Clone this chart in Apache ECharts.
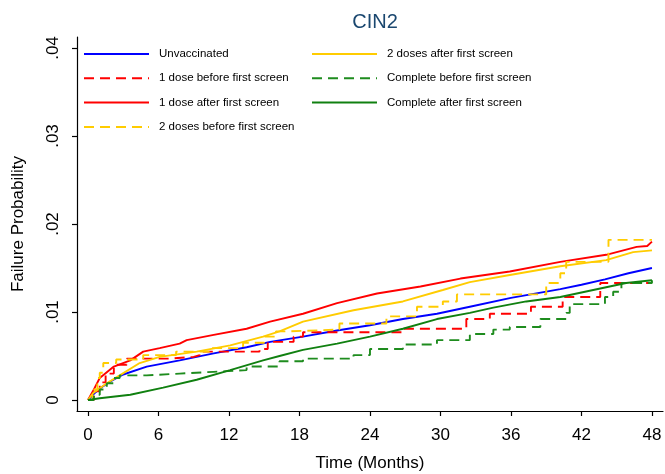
<!DOCTYPE html>
<html>
<head>
<meta charset="utf-8">
<script src="https://cdn.jsdelivr.net/npm/echarts@6/dist/echarts.min.js"></script>
<style>
  html, body { margin: 0; padding: 0; background: #fff; }
  #chart { width: 665px; height: 474px; }
</style>
</head>
<body>
<div id="chart"></div>
<script>
// tick positions
const xTicks = [0, 6, 12, 18, 24, 30, 36, 42, 48]
const yTicks = [0, 0.01, 0.02, 0.03, 0.04]

// [months, failure probability]
const unvaccinated = [
  [0, 0], [0.5, 0.0007], [1, 0.0013], [1.9, 0.0021], [3, 0.0029], [5, 0.0038],
  [7.8, 0.0045], [10.7, 0.0053], [13.5, 0.0060], [15.5, 0.0066], [18.3, 0.0072],
  [21.2, 0.0079], [24, 0.0085], [26.8, 0.0092], [29.7, 0.0098], [32.5, 0.0106],
  [36, 0.0116], [40.2, 0.0126], [42, 0.0131], [44, 0.0137], [46, 0.0144], [48, 0.0150]
]
const oneBefore = [
  [0, 0], [0.5, 0.0010], [1, 0.0020], [1.5, 0.0030], [2.2, 0.0040], [3.3, 0.0047],
  [7, 0.0049], [9, 0.0051], [9.5, 0.0055], [14.6, 0.0058], [15.3, 0.0066],
  [17.5, 0.0072], [18.3, 0.0077], [26.7, 0.0081], [32.2, 0.0092], [34.2, 0.0098],
  [37.7, 0.0106], [40.4, 0.0117], [43.6, 0.0133], [48, 0.0133]
]
const oneAfter = [
  [0, 0], [0.5, 0.0012], [1, 0.0025], [2.2, 0.0038], [3.6, 0.0045], [4.7, 0.0055],
  [6.1, 0.0059], [7.8, 0.0064], [8.4, 0.0068], [10.7, 0.0074], [13.5, 0.0081],
  [15.5, 0.0089], [18.3, 0.0098], [21.2, 0.0110], [24.6, 0.0121], [28.3, 0.0129],
  [31.7, 0.0138], [35.9, 0.0146], [40.2, 0.0157], [44.1, 0.0165], [46.7, 0.0174],
  [47.6, 0.0175], [48, 0.0180]
]
const twoBefore = [
  [0, 0], [0.4, 0.0012], [0.8, 0.0025], [1, 0.0031], [1.3, 0.0042], [2.4, 0.0046],
  [4.7, 0.0051], [7.5, 0.0055], [10.4, 0.0059], [13.2, 0.0065], [15, 0.0072],
  [16, 0.0078], [17, 0.0080], [21.4, 0.0087], [25.4, 0.0095], [28, 0.0106],
  [30.2, 0.0112], [31.4, 0.0120], [39, 0.0133], [40.2, 0.0144], [40.7, 0.0157],
  [44.3, 0.0182], [48, 0.0182]
]
const twoAfter = [
  [0, 0], [0.45, 0.0008], [1.6, 0.0019], [2.7, 0.0028], [4.4, 0.0042], [6.1, 0.0049],
  [9.25, 0.0055], [12.1, 0.0062], [14.9, 0.0072], [16.3, 0.0078], [18.3, 0.0089],
  [22.6, 0.0102], [26.8, 0.0112], [30.2, 0.0125], [32.5, 0.0134], [35.9, 0.0142],
  [40.2, 0.0152], [44.1, 0.0159], [46.4, 0.0168], [48, 0.0170]
]
const completeBefore = [
  [0, 0], [0.5, 0.0006], [1, 0.0012], [1.6, 0.0019], [2.2, 0.0025], [2.7, 0.0028],
  [5, 0.0030], [7.8, 0.0032], [10.7, 0.0034], [13.5, 0.0038], [16.3, 0.0044],
  [18.3, 0.0047], [22.6, 0.0051], [24, 0.0058], [26.8, 0.0063], [29.7, 0.0068],
  [32.5, 0.0075], [34.5, 0.0080], [35.9, 0.0083], [38.5, 0.0092], [40.7, 0.0099],
  [41, 0.0109], [44, 0.0117], [44.7, 0.0123], [45.4, 0.0133], [48, 0.0136]
]
const completeAfter = [
  [0, 0], [1, 0.0002], [3.6, 0.0006], [6.4, 0.0014], [9.25, 0.0023], [12.1, 0.0034],
  [14.9, 0.0045], [16.3, 0.0050], [18.3, 0.0057], [21.2, 0.0064], [24, 0.0072],
  [26.8, 0.0081], [29.7, 0.0092], [32.5, 0.0099], [34.5, 0.0105], [37.3, 0.0112],
  [40.2, 0.0117], [43, 0.0125], [45.8, 0.0133], [48, 0.0136]
]

const font = "'Liberation Sans', Arial, sans-serif"

function line (name, data, color, dashed) {
  return {
    name: name,
    type: 'line',
    data: data,
    symbol: 'none',
    step: dashed ? 'end' : false,
    lineStyle: {
      color: color,
      width: 1.9,
      type: dashed ? [10, 6] : 'solid'
    },
    itemStyle: { color: color }
  }
}

function legendBlock (left, names) {
  return {
    orient: 'vertical',
    left: left,
    top: 48,
    padding: 0,
    itemWidth: 65,
    itemHeight: 14,
    itemGap: 12.3,
    itemStyle: { opacity: 0 },
    data: names,
    textStyle: { fontFamily: font, fontSize: 11.5, color: '#000', padding: [0, 0, 0, 5] }
  }
}

const chart = echarts.init(document.getElementById('chart'))
chart.setOption({
  animation: false,
  textStyle: { fontFamily: font },
  title: {
    text: 'CIN2',
    left: 370,
    textAlign: 'center',
    top: 7,
    textStyle: { fontFamily: font, fontSize: 20, fontWeight: 'normal', color: '#1a476f' }
  },
  legend: [
    legendBlock(83, ['Unvaccinated', '1 dose before first screen', '1 dose after first screen', '2 doses before first screen']),
    legendBlock(311, ['2 doses after first screen', 'Complete before first screen', 'Complete after first screen'])
  ],
  grid: { left: 77, right: 2, top: 37, bottom: 63, outerBoundsMode: 'none', containLabel: false },
  xAxis: {
    type: 'value',
    min: -0.936,
    max: 48.94,
    name: 'Time (Months)',
    nameLocation: 'middle',
    nameGap: 44,
    nameTextStyle: { fontFamily: font, fontSize: 17, color: '#000' },
    axisLine: { show: true, onZero: false, lineStyle: { color: '#000', width: 1.2 } },
    axisTick: { show: true, length: 5, customValues: xTicks, lineStyle: { color: '#000', width: 1.2 } },
    axisLabel: { customValues: xTicks, fontSize: 17, color: '#000', margin: 16 },
    splitLine: { show: false }
  },
  yAxis: {
    type: 'value',
    min: -0.00125,
    max: 0.04125,
    name: 'Failure Probability',
    nameLocation: 'middle',
    nameRotate: 90,
    nameGap: 50,
    nameTextStyle: { fontFamily: font, fontSize: 17, color: '#000' },
    axisLine: { show: true, onZero: false, lineStyle: { color: '#000', width: 1.2 } },
    axisTick: { show: true, length: 5, customValues: yTicks, lineStyle: { color: '#000', width: 1.2 } },
    axisLabel: {
      customValues: yTicks,
      rotate: 90,
      fontSize: 17,
      color: '#000',
      margin: 15,
      formatter: v => v === 0 ? '0' : v.toFixed(2).replace(/^0/, '')
    },
    splitLine: { show: false }
  },
  series: [
    line('Unvaccinated', unvaccinated, '#0000ff', false),
    line('1 dose before first screen', oneBefore, '#ff0000', true),
    line('1 dose after first screen', oneAfter, '#ff0000', false),
    line('2 doses before first screen', twoBefore, '#ffcc00', true),
    line('2 doses after first screen', twoAfter, '#ffcc00', false),
    line('Complete before first screen', completeBefore, '#1e8c1e', true),
    line('Complete after first screen', completeAfter, '#108010', false)
  ]
})
</script>
</body>
</html>
